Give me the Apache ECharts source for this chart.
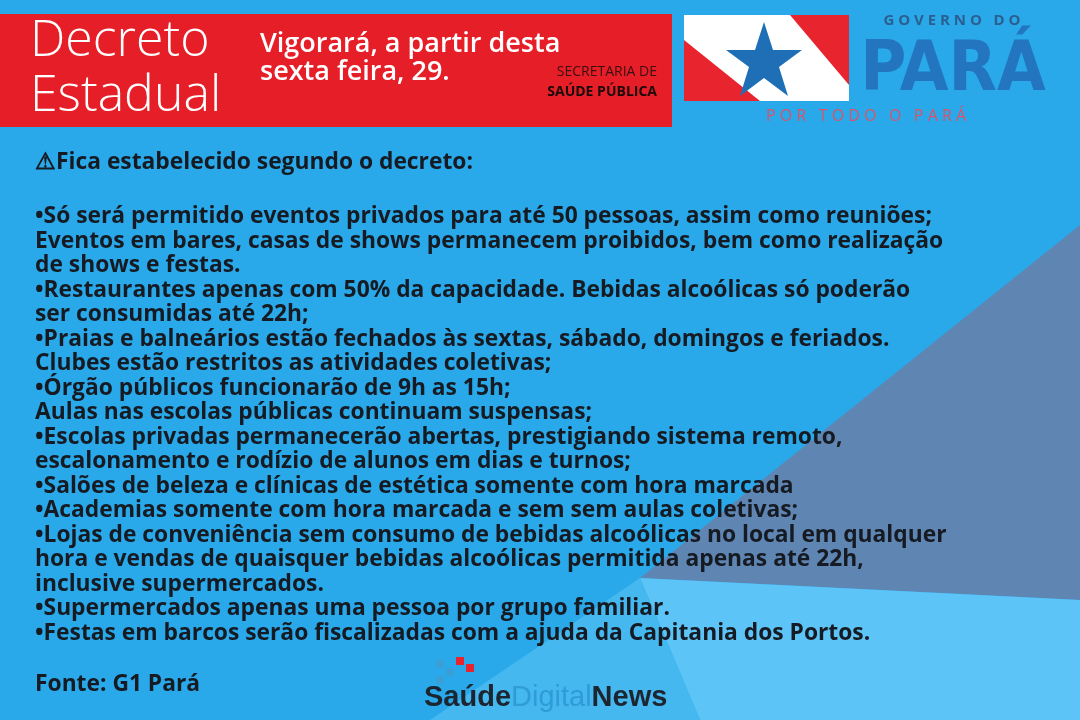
<!DOCTYPE html>
<html><head><meta charset="utf-8">
<script src="https://cdn.jsdelivr.net/npm/echarts@6/dist/echarts.min.js"></script>
<style>html,body{margin:0;padding:0;background:#29a9ea}#c{width:1080px;height:720px}</style>
</head><body><div id="c"></div>
<script>
const titleLines = ['Decreto', 'Estadual'];
const subtitleLines = ['Vigorará, a partir desta', 'sexta feira, 29.'];
const bodyLines = [
  '•Só será permitido eventos privados para até 50 pessoas, assim como reuniões;',
  'Eventos em bares, casas de shows permanecem proibidos, bem como realização',
  'de shows e festas.',
  '•Restaurantes apenas com 50% da capacidade. Bebidas alcoólicas só poderão',
  'ser consumidas até 22h;',
  '•Praias e balneários estão fechados às sextas, sábado, domingos e feriados.',
  'Clubes estão restritos as atividades coletivas;',
  '•Órgão públicos funcionarão de 9h as 15h;',
  'Aulas nas escolas públicas continuam suspensas;',
  '•Escolas privadas permanecerão abertas, prestigiando sistema remoto,',
  'escalonamento e rodízio de alunos em dias e turnos;',
  '•Salões de beleza e clínicas de estética somente com hora marcada',
  '•Academias somente com hora marcada e sem sem aulas coletivas;',
  '•Lojas de conveniência sem consumo de bebidas alcoólicas no local em qualquer',
  'hora e vendas de quaisquer bebidas alcoólicas permitida apenas até 22h,',
  'inclusive supermercados.',
  '•Supermercados apenas uma pessoa por grupo familiar.',
  '•Festas em barcos serão fiscalizadas com a ajuda da Capitania dos Portos.'
];

const chart = echarts.init(document.getElementById('c'));
const body = { fontFamily: 'Open Sans', fontWeight: 'bold', fontSize: 22.8, fill: '#161a22' };
const g = [];

// background shapes
g.push({ type: 'polygon', shape: { points: [[1080, 225], [640, 578], [1080, 600]] }, style: { fill: '#5f86b3' } });
g.push({ type: 'polygon', shape: { points: [[640, 578], [1080, 600], [1080, 720], [700, 720]] }, style: { fill: '#5cc4f6' } });
g.push({ type: 'polygon', shape: { points: [[640, 578], [700, 720], [430, 720]] }, style: { fill: '#45b8f0' } });

// header banner
g.push({ type: 'rect', shape: { x: 0, y: 14, width: 672, height: 113 }, style: { fill: '#e61e28' } });
titleLines.forEach((t, i) => g.push({ type: 'text', x: 30, y: 42 + i * 55, style: { text: t, fontFamily: 'Open Sans', fontWeight: 300, fontSize: 50, fill: '#fff', verticalAlign: 'middle' } }));
subtitleLines.forEach((t, i) => g.push({ type: 'text', x: 260, y: 44 + i * 28, style: { text: t, fontFamily: 'Open Sans', fontWeight: 600, fontSize: 27, fill: '#fff', verticalAlign: 'middle' } }));
g.push({ type: 'text', x: 657, y: 72, style: { text: 'SECRETARIA DE', fontFamily: 'Open Sans', fontSize: 14, fill: '#3a1010', align: 'right', verticalAlign: 'middle' } });
g.push({ type: 'text', x: 657, y: 92, style: { text: 'SAÚDE PÚBLICA', fontFamily: 'Open Sans', fontWeight: 'bold', fontSize: 14, fill: '#1a0a0a', align: 'right', verticalAlign: 'middle' } });

// flag
g.push({ type: 'rect', shape: { x: 684, y: 15, width: 165, height: 86 }, style: { fill: '#e8242e' } });
g.push({ type: 'polygon', shape: { points: [[684, 15], [790, 15], [849, 85], [849, 101], [760, 101], [684, 40]] }, style: { fill: '#ffffff' } });
g.push({ type: 'polygon', shape: { points: [[764, 22], [773, 50], [802, 50], [779, 67], [788, 96], [764, 78], [740, 96], [749, 67], [726, 50], [755, 50]] }, style: { fill: '#1f6fb6' } });

// governo do pará
g.push({ type: 'text', x: 952, y: 21, style: { text: 'G O V E R N O   D O', fontFamily: 'Open Sans', fontWeight: 'bold', fontSize: 15, fill: '#2b5f90', align: 'center', verticalAlign: 'middle' } });
g.push({ type: 'text', x: 953, y: 72, style: { text: 'PARÁ', fontFamily: 'DejaVu Sans Condensed', fontWeight: 'bold', fontSize: 70, fill: '#2275be', align: 'center', verticalAlign: 'middle' } });
g.push({ type: 'text', x: 866, y: 116, style: { text: 'P O R   T O D O   O   P A R Á', fontFamily: 'Open Sans', fontSize: 16, fill: '#d9546a', align: 'center', verticalAlign: 'middle' } });

// body text
g.push({ type: 'text', x: 35, y: 163, style: Object.assign({ text: '⚠Fica estabelecido segundo o decreto:', verticalAlign: 'middle' }, body) });
bodyLines.forEach((t, i) => g.push({ type: 'text', x: 35, y: 217 + i * 24.5, style: Object.assign({ text: t, verticalAlign: 'middle' }, body) }));
g.push({ type: 'text', x: 35, y: 685, style: Object.assign({ text: 'Fonte: G1 Pará', verticalAlign: 'middle' }, body) });

// logo
[[436, 660, '#3a9fd6'], [446, 668, '#3a9fd6'], [436, 676, '#3a9fd6'], [456, 657, '#e8242e'], [466, 664, '#e8242e']].forEach(p =>
  g.push({ type: 'rect', shape: { x: p[0], y: p[1], width: 8, height: 8 }, style: { fill: p[2] } }));
g.push({ type: 'text', x: 424, y: 698, style: { text: '{a|Saúde}{b|Digital}{a|News}', verticalAlign: 'middle',
  rich: { a: { fontFamily: 'Liberation Sans', fontWeight: 'bold', fontSize: 29, fill: '#1c2530', color: '#1c2530' },
          b: { fontFamily: 'Liberation Sans', fontSize: 29, fill: '#2f9bd8', color: '#2f9bd8' } } } });

chart.setOption({ backgroundColor: '#29a9ea', graphic: g });
</script></body></html>
